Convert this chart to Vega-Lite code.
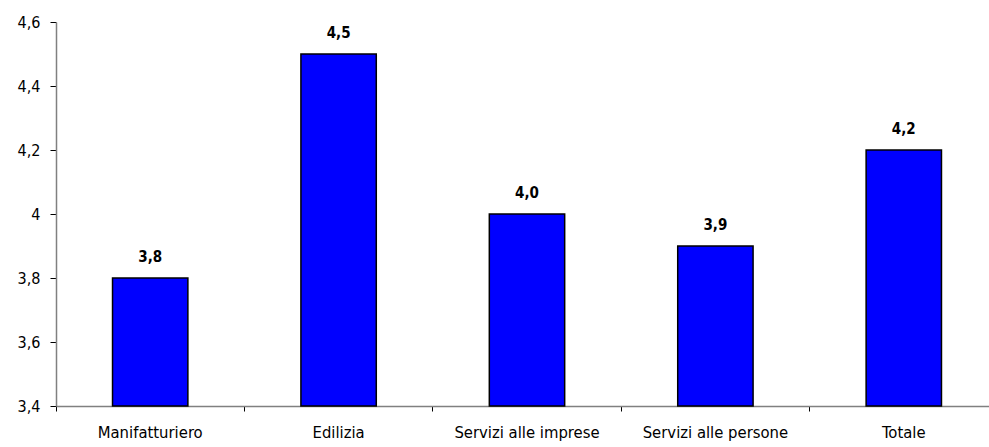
{
  "$schema": "https://vega.github.io/schema/vega-lite/v6.json",
  "autosize": "none",
  "width": 942,
  "height": 384,
  "padding": {"left": 56, "top": 22, "right": 0, "bottom": 41},
  "background": "white",
  "config": {"view": {"stroke": null}, "font": "DejaVu Sans Condensed, Liberation Sans, sans-serif"},
  "data": {"values": [
    {"settore": "Manifatturiero", "valore": 3.8, "etichetta": "3,8"},
    {"settore": "Edilizia", "valore": 4.5, "etichetta": "4,5"},
    {"settore": "Servizi alle imprese", "valore": 4.0, "etichetta": "4,0"},
    {"settore": "Servizi alle persone", "valore": 3.9, "etichetta": "3,9"},
    {"settore": "Totale", "valore": 4.2, "etichetta": "4,2"}
  ]},
  "encoding": {
    "x": {"field": "settore", "type": "nominal", "sort": null,
      "scale": {"paddingInner": 0, "paddingOuter": 0},
      "axis": {"title": null, "labelAngle": 0, "bandPosition": 0, "labelFontSize": 16.5, "labelColor": "black", "labelPadding": 13, "domainColor": "#808080", "domainWidth": 1.5, "tickColor": "black", "tickSize": 5, "labelOverlap": false, "labelFont": "DejaVu Sans Condensed, Liberation Sans, sans-serif"}},
    "y": {"field": "valore", "type": "quantitative",
      "scale": {"domain": [3.4, 4.6], "zero": false},
      "axis": {"title": null, "values": [3.4, 3.6, 3.8, 4.0, 4.2, 4.4, 4.6], "grid": false, "labelExpr": "replace(format(datum.value, '~g'), '.', ',')", "labelFontSize": 16, "labelColor": "black", "labelPadding": 10, "domainColor": "#808080", "domainWidth": 1.5, "tickColor": "black", "tickSize": 6, "labelFont": "DejaVu Sans Condensed, Liberation Sans, sans-serif"}}
  },
  "layer": [
    {"mark": {"type": "bar", "width": {"band": 0.4}, "fill": "#0000FF", "stroke": "black", "strokeWidth": 1.5},
      "encoding": {"y2": {"datum": 3.4}}},
    {"mark": {"type": "text", "dy": -21, "fontWeight": "bold", "fontSize": 15, "color": "black", "font": "DejaVu Sans Condensed, Liberation Sans, sans-serif"},
      "encoding": {"text": {"field": "etichetta"}}}
  ]
}
